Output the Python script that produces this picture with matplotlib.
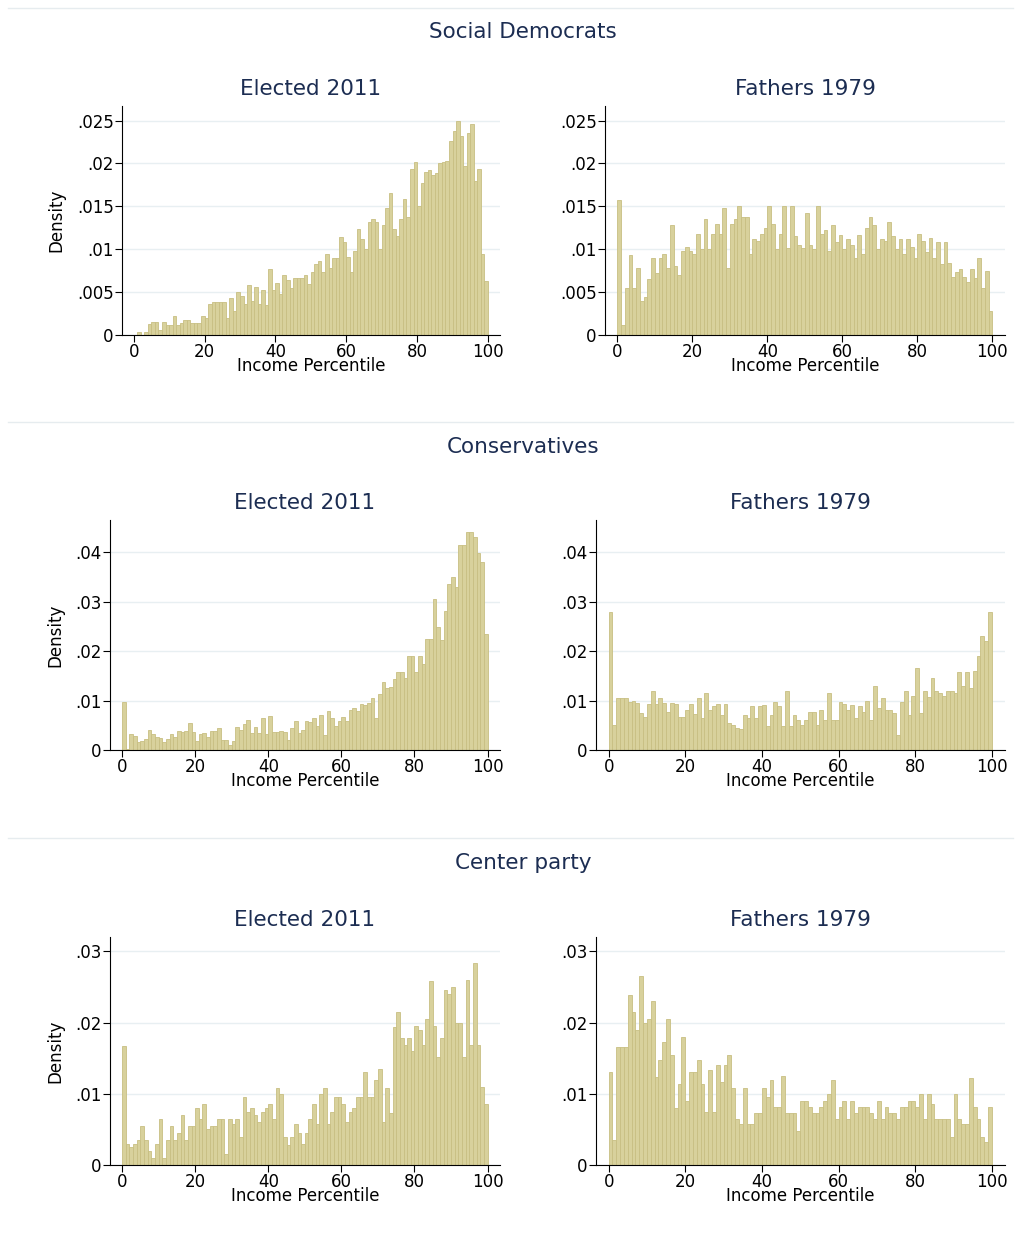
import matplotlib.pyplot as plt
import numpy as np

# Density per income percentile bin (1..100)
sd_elected = [0, .0003, 0, .0004, .0013, .0015, .0015, .0006, .0015, .0012,
              .0012, .0022, .0012, .0014, .0018, .0018, .0014, .0014, .0014, .0022,
              .0020, .0036, .0039, .0039, .0038, .0039, .0020, .0043, .0028, .0050,
              .0045, .0036, .0058, .0040, .0056, .0036, .0052, .0035, .0077, .0052,
              .0061, .0048, .0070, .0064, .0055, .0066, .0066, .0066, .0070, .0060,
              .0073, .0083, .0086, .0074, .0095, .0078, .0090, .0090, .0114, .0108,
              .0091, .0074, .0098, .0124, .0112, .0100, .0132, .0135, .0132, .0100,
              .0128, .0148, .0166, .0124, .0115, .0135, .0158, .0138, .0194, .0202,
              .0150, .0177, .0190, .0192, .0187, .0189, .0200, .0202, .0203, .0226,
              .0238, .0250, .0232, .0197, .0236, .0246, .0180, .0193, .0095, .0063]
sd_fathers = [.0157, .0012, .0055, .0093, .0055, .0078, .0040, .0044, .0065, .0090,
              .0072, .0090, .0094, .0078, .0128, .0080, .0070, .0098, .0103, .0098,
              .0095, .0118, .0100, .0135, .0100, .0118, .0130, .0118, .0148, .0078,
              .0130, .0135, .0150, .0138, .0138, .0095, .0112, .0110, .0118, .0125,
              .0150, .0130, .0100, .0118, .0150, .0102, .0150, .0115, .0105, .0102,
              .0142, .0105, .0100, .0150, .0118, .0122, .0098, .0128, .0108, .0117,
              .0100, .0112, .0105, .0090, .0117, .0095, .0125, .0138, .0128, .0100,
              .0112, .0110, .0132, .0115, .0100, .0112, .0095, .0112, .0103, .0090,
              .0118, .0110, .0097, .0113, .0090, .0108, .0083, .0108, .0084, .0068,
              .0073, .0077, .0068, .0062, .0077, .0066, .0090, .0055, .0075, .0028]
cons_elected = [.0097, .0002, .0033, .0028, .0016, .0018, .0023, .0040, .0033, .0027,
                .0025, .0016, .0023, .0033, .0026, .0039, .0036, .0039, .0055, .0036,
                .0018, .0033, .0035, .0027, .0038, .0038, .0045, .0021, .0021, .0011,
                .0018, .0047, .0040, .0052, .0061, .0034, .0046, .0034, .0064, .0032,
                .0068, .0036, .0036, .0038, .0036, .0021, .0044, .0059, .0034, .0040,
                .0059, .0056, .0064, .0049, .0070, .0030, .0079, .0064, .0048, .0059,
                .0067, .0059, .0081, .0085, .0079, .0093, .0090, .0096, .0105, .0064,
                .0113, .0137, .0125, .0128, .0143, .0158, .0158, .0145, .0190, .0190,
                .0158, .0190, .0174, .0224, .0225, .0306, .0248, .0223, .0282, .0336,
                .0350, .0330, .0415, .0415, .0440, .0440, .0430, .0398, .0380, .0235]
cons_fathers = [.0278, .0050, .0105, .0105, .0105, .0097, .0100, .0096, .0075, .0066,
                .0093, .0120, .0093, .0105, .0096, .0077, .0096, .0093, .0066, .0066,
                .0080, .0093, .0073, .0105, .0065, .0116, .0080, .0088, .0093, .0070,
                .0093, .0055, .0050, .0045, .0042, .0070, .0065, .0088, .0065, .0088,
                .0090, .0048, .0070, .0098, .0088, .0048, .0120, .0048, .0070, .0060,
                .0050, .0060, .0077, .0077, .0050, .0080, .0060, .0115, .0060, .0060,
                .0098, .0093, .0080, .0090, .0065, .0088, .0077, .0100, .0060, .0130,
                .0085, .0105, .0080, .0080, .0075, .0030, .0098, .0120, .0070, .0110,
                .0165, .0075, .0120, .0108, .0145, .0120, .0115, .0110, .0120, .0120,
                .0115, .0158, .0130, .0158, .0125, .0160, .0190, .0230, .0220, .0280]
cp_elected = [.0167, .0030, .0025, .0030, .0035, .0055, .0035, .0020, .0010, .0030,
              .0065, .0010, .0035, .0055, .0035, .0045, .0070, .0035, .0055, .0055,
              .0080, .0065, .0085, .0050, .0055, .0055, .0065, .0065, .0015, .0065,
              .0058, .0065, .0040, .0095, .0075, .0080, .0070, .0060, .0075, .0080,
              .0085, .0065, .0108, .0100, .0040, .0028, .0040, .0058, .0045, .0030,
              .0045, .0065, .0085, .0058, .0100, .0108, .0058, .0075, .0095, .0095,
              .0085, .0060, .0075, .0080, .0095, .0095, .0130, .0095, .0095, .0120,
              .0135, .0060, .0108, .0073, .0193, .0215, .0178, .0168, .0178, .0160,
              .0195, .0190, .0168, .0205, .0258, .0195, .0152, .0178, .0245, .0240,
              .0250, .0200, .0200, .0152, .0260, .0168, .0283, .0168, .0110, .0085]
cp_fathers = [.0130, .0035, .0165, .0165, .0165, .0238, .0215, .0190, .0265, .0200,
              .0205, .0230, .0123, .0148, .0172, .0205, .0155, .0080, .0113, .0180,
              .0090, .0130, .0130, .0148, .0113, .0075, .0133, .0075, .0140, .0117,
              .0140, .0155, .0108, .0065, .0057, .0108, .0057, .0057, .0073, .0073,
              .0108, .0095, .0120, .0082, .0082, .0125, .0073, .0073, .0073, .0048,
              .0090, .0090, .0082, .0073, .0073, .0082, .0090, .0100, .0120, .0065,
              .0082, .0090, .0065, .0090, .0073, .0082, .0082, .0082, .0073, .0065,
              .0090, .0065, .0082, .0073, .0073, .0065, .0082, .0082, .0090, .0090,
              .0082, .0100, .0065, .0100, .0085, .0065, .0065, .0065, .0065, .0040,
              .0100, .0065, .0057, .0057, .0122, .0082, .0065, .0040, .0032, .0082]

groups = ["Social Democrats", "Conservatives", "Center party"]
panel_titles = ["Elected 2011", "Fathers 1979"]
data = [[sd_elected, sd_fathers], [cons_elected, cons_fathers], [cp_elected, cp_fathers]]
yticks = [[0, .005, .01, .015, .02, .025], [0, .01, .02, .03, .04], [0, .01, .02, .03]]
ylabels = [["0", ".005", ".01", ".015", ".02", ".025"], ["0", ".01", ".02", ".03", ".04"],
           ["0", ".01", ".02", ".03"]]
ytops = [0.0267, 0.0465, 0.032]

W, H = 1021, 1247
fig = plt.figure(figsize=(W / 100, H / 100), dpi=100)
navy = '#1c2d52'
bar_col = '#d8d19c'
edge_col = '#c8bf82'

# axes pixel boxes: (left, right) per column, (top, bottom) per row
cols_px = [[(122, 500), (605, 1005)], [(110, 500), (596, 1005)], [(110, 500), (596, 1005)]]
rows_px = [(106, 335), (520, 750), (937, 1165)]
header_y = [32, 447, 863]
sep_y = [8, 422, 838]

for r in range(3):
    fig.text(0.512, 1 - header_y[r] / H, groups[r], ha='center', va='center',
             fontsize=15.5, color=navy)
    fig.add_artist(plt.Line2D([8 / W, 1013 / W], [1 - sep_y[r] / H] * 2,
                              color='#e6ecef', lw=1))
    for c in range(2):
        l, rt = cols_px[r][c]
        t, b = rows_px[r]
        ax = fig.add_axes([l / W, 1 - b / H, (rt - l) / W, (b - t) / H])
        vals = data[r][c]
        x = np.arange(len(vals))
        ax.bar(x, vals, width=1.0, align='edge', color=bar_col, edgecolor=edge_col, linewidth=0.6)
        ax.set_xlim(-3.3, 103.4)
        ax.set_ylim(0, ytops[r])
        ax.set_xticks([0, 20, 40, 60, 80, 100])
        ax.set_yticks(yticks[r])
        ax.set_yticklabels(ylabels[r])
        ax.yaxis.grid(True, color='#e8eff2', lw=1)
        ax.set_axisbelow(True)
        for s in ['top', 'right']:
            ax.spines[s].set_visible(False)
        ax.tick_params(labelsize=12, length=5, pad=1)
        ax.set_xlabel("Income Percentile", fontsize=12, labelpad=-3)
        if c == 0:
            ax.set_ylabel("Density", fontsize=12, labelpad=8)
        ax.set_title(panel_titles[c], fontsize=15.5, color=navy, pad=8)

fig.savefig('out.png', dpi=100, facecolor='white')
